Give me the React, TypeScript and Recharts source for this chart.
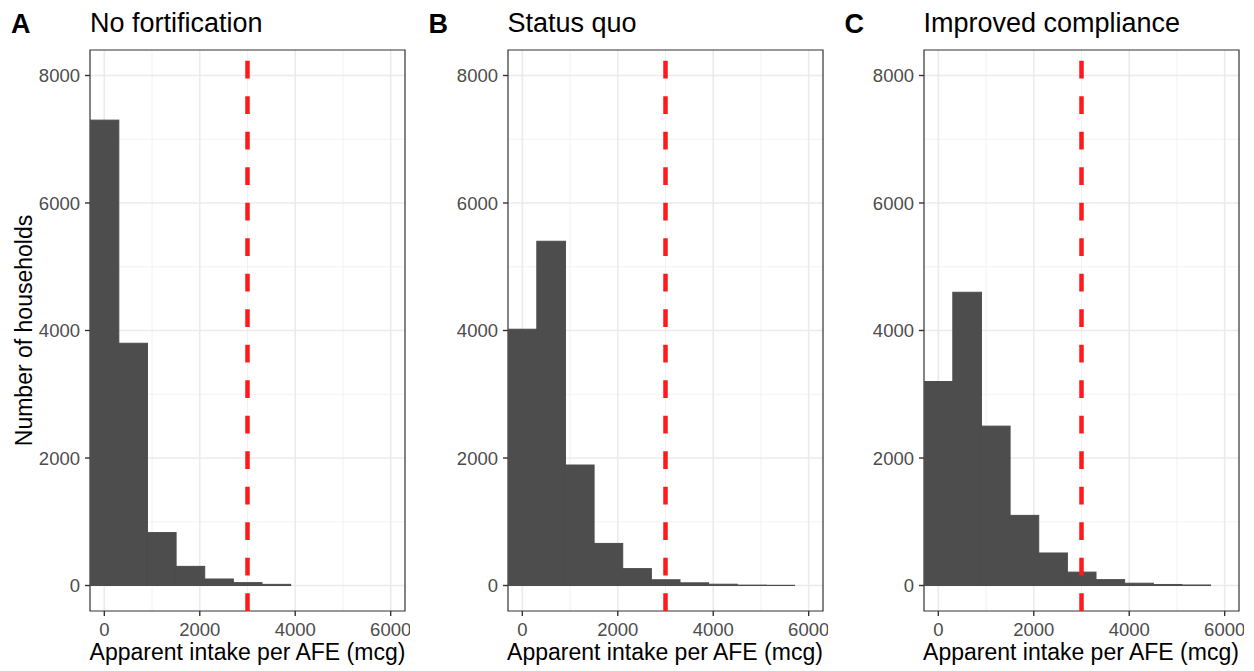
import React from "react";
import {
  ComposedChart,
  Bar,
  XAxis,
  YAxis,
  CartesianGrid,
  ReferenceLine,
  ReferenceArea,
} from "recharts";

// histogram bins (centre of each 600 mcg bin)
const binCenters = [0, 600, 1200, 1800, 2400, 3000, 3600, 4200, 4800, 5400];

// households per bin
const noFortification = [7300, 3800, 830, 300, 102, 45, 18, 0, 0, 0];
const statusQuo = [4020, 5400, 1890, 660, 265, 90, 42, 20, 6, 3];
const improvedCompliance = [3200, 4600, 2500, 1100, 510, 210, 92, 36, 16, 8];

const xTicks = [0, 2000, 4000, 6000];
const xMinor = [1000, 3000, 5000];
const yTicks = [0, 2000, 4000, 6000, 8000];
const yMinor = [1000, 3000, 5000, 7000];

const threshold = 3000;
const panelTags = ["A", "B", "C"];
const panelTitles = ["No fortification", "Status quo", "Improved compliance"];

const X_DOMAIN: [number, number] = [-300, 6300];
const Y_DOMAIN: [number, number] = [-400, 8400];
const BIN_WIDTH = 600;

const FONT = '"Liberation Sans", Arial, Helvetica, sans-serif';
const CHART_W = 410;
const CHART_H = 671;
const AXIS_W = 90;
const PLOT_W = CHART_W - AXIS_W - 5;
const PLOT_TOP = 50;
const PLOT_BOTTOM = 611;
const BAR_FILL = "#4D4D4D";

const panelLefts = [0, 417.5, 833.5];

// full bin width in pixels, so neighbouring bins touch like a histogram
const binPx = (PLOT_W * BIN_WIDTH) / (X_DOMAIN[1] - X_DOMAIN[0]);

function HistBar(props: any) {
  const { x, y, width, height } = props;
  if (!height || height <= 0) return null;
  const cx = x + width / 2;
  return (
    <rect
      x={cx - binPx / 2}
      y={y}
      width={binPx}
      height={height}
      fill={BAR_FILL}
      stroke={BAR_FILL}
      strokeWidth={1}
    />
  );
}

function Panel({ values, left }: { values: number[]; left: number }) {
  const rows = binCenters.map((x, i) => ({ x, n: values[i] }));
  return (
    <div style={{ position: "absolute", left, top: 0 }}>
      <ComposedChart
        width={CHART_W}
        height={CHART_H}
        data={rows}
        margin={{ top: PLOT_TOP, right: 5, bottom: 0, left: 0 }}
        barCategoryGap={0}
        barGap={0}
      >
        <CartesianGrid
          horizontalValues={yMinor}
          verticalValues={xMinor}
          stroke="#F0F0F0"
          strokeWidth={0.9}
        />
        <CartesianGrid
          horizontalValues={yTicks}
          verticalValues={xTicks}
          stroke="#EBEBEB"
          strokeWidth={1.6}
        />
        <XAxis
          dataKey="x"
          type="number"
          domain={X_DOMAIN}
          ticks={xTicks}
          interval={0}
          allowDataOverflow
          height={CHART_H - PLOT_BOTTOM}
          tickSize={5}
          tickMargin={7}
          axisLine={false}
          tickLine={{ stroke: "#333333", strokeWidth: 1.4 }}
          tick={{ fill: "#4D4D4D", fontSize: 18.5 }}
        />
        <YAxis
          type="number"
          domain={Y_DOMAIN}
          ticks={yTicks}
          interval={0}
          allowDataOverflow
          width={AXIS_W}
          tickSize={5}
          tickMargin={5}
          axisLine={false}
          tickLine={{ stroke: "#333333", strokeWidth: 1.4 }}
          tick={{ fill: "#4D4D4D", fontSize: 18.5 }}
        />
        <Bar
          dataKey="n"
          fill={BAR_FILL}
          shape={HistBar}
          isAnimationActive={false}
        />
        <ReferenceLine
          x={threshold}
          stroke="#FF1A1A"
          strokeWidth={4.5}
          strokeDasharray="17.75 17.75"
        />
        <ReferenceArea
          x1={X_DOMAIN[0]}
          x2={X_DOMAIN[1]}
          y1={Y_DOMAIN[0]}
          y2={Y_DOMAIN[1]}
          fill="none"
          stroke="#333333"
          strokeWidth={1.2}
          ifOverflow="visible"
        />
      </ComposedChart>
    </div>
  );
}

export default function App() {
  const series = [noFortification, statusQuo, improvedCompliance];
  return (
    <div
      style={{
        position: "absolute",
        left: 0,
        top: 0,
        width: 1254,
        height: 671,
        background: "#fff",
        fontFamily: FONT,
      }}
    >
      {series.map((values, i) => (
        <Panel key={panelTags[i]} values={values} left={panelLefts[i]} />
      ))}
      <svg
        width={1254}
        height={671}
        style={{ position: "absolute", left: 0, top: 0, pointerEvents: "none" }}
      >
        {panelTags.map((tag, i) => {
          const plotLeft = panelLefts[i] + AXIS_W;
          return (
            <g key={tag}>
              <text
                x={panelLefts[i] + 11}
                y={33}
                fontSize={27}
                fontWeight="bold"
                fill="#000"
                fontFamily={FONT}
              >
                {tag}
              </text>
              <text x={plotLeft} y={32} fontSize={27} fill="#000" fontFamily={FONT}>
                {panelTitles[i]}
              </text>
              <text
                x={plotLeft + PLOT_W / 2}
                y={660}
                fontSize={23}
                textAnchor="middle"
                fill="#000"
                fontFamily={FONT}
              >
                Apparent intake per AFE (mcg)
              </text>
            </g>
          );
        })}
        <text
          transform={`translate(32, ${(PLOT_TOP + PLOT_BOTTOM) / 2}) rotate(-90)`}
          fontSize={23}
          textAnchor="middle"
          fill="#000"
          fontFamily={FONT}
        >
          Number of households
        </text>
      </svg>
    </div>
  );
}
